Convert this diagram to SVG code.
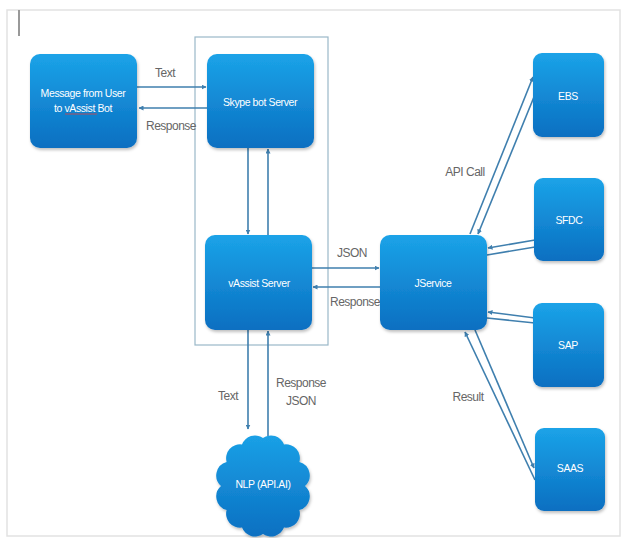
<svg xmlns="http://www.w3.org/2000/svg" width="623" height="538" viewBox="0 0 623 538">
<style>
.box{fill:url(#bg);filter:url(#sh)}
.bt{fill:#fff;font-family:"Liberation Sans",Arial,sans-serif;font-size:10.5px;text-anchor:middle;letter-spacing:-0.4px}
.lb{fill:#666;font-family:"Liberation Sans",Arial,sans-serif;font-size:12px;text-anchor:middle;letter-spacing:-0.5px}
.cn{stroke:#3f7fae;stroke-width:1.6;fill:none}
</style>
<defs>
<linearGradient id="bg" x1="0" y1="0" x2="0" y2="1">
<stop offset="0" stop-color="#1ba3e8"/>
<stop offset="1" stop-color="#0b6fc1"/>
</linearGradient>
<linearGradient id="cg" gradientUnits="userSpaceOnUse" x1="0" y1="430" x2="0" y2="538">
<stop offset="0" stop-color="#1ba3e8"/>
<stop offset="1" stop-color="#0b6fc1"/>
</linearGradient>
<filter id="sh" x="-10%" y="-10%" width="125%" height="125%">
<feDropShadow dx="1" dy="2" stdDeviation="1.5" flood-color="#000" flood-opacity="0.25"/>
</filter>
<marker id="ah" viewBox="0 0 10 10" refX="9" refY="5" markerWidth="5" markerHeight="5" orient="auto" markerUnits="userSpaceOnUse">
<path d="M0,0 L10,5 L0,10 z" fill="#3f7fae"/>
</marker>
</defs>
<rect width="623" height="538" fill="#fff"/>
<rect x="7" y="10" width="613" height="526" fill="none" stroke="#e2e2e2" stroke-width="1.5"/>
<line x1="19" y1="10" x2="19" y2="36" stroke="#999" stroke-width="2"/>
<rect id="container" x="195" y="37" width="133" height="308" fill="none" stroke="#9ab8c8" stroke-width="1.2"/>
<g id="connectors">
<line class="cn" x1="137" y1="87" x2="206" y2="87" marker-end="url(#ah)"/>
<line class="cn" x1="207" y1="108" x2="139" y2="108" marker-end="url(#ah)"/>
<line class="cn" x1="248" y1="148" x2="248" y2="234" marker-end="url(#ah)"/>
<line class="cn" x1="268" y1="235" x2="268" y2="149" marker-end="url(#ah)"/>
<line class="cn" x1="312" y1="268" x2="379" y2="268" marker-end="url(#ah)"/>
<line class="cn" x1="380" y1="287" x2="313" y2="287" marker-end="url(#ah)"/>
<line class="cn" x1="248" y1="330" x2="248" y2="429" marker-end="url(#ah)"/>
<line class="cn" x1="268" y1="436" x2="268" y2="331" marker-end="url(#ah)"/>
<line class="cn" x1="470" y1="234" x2="533" y2="77" marker-end="url(#ah)"/>
<line class="cn" x1="536" y1="92" x2="478" y2="234" marker-end="url(#ah)"/>
<line class="cn" x1="535" y1="240" x2="488" y2="248" marker-end="url(#ah)"/>
<line class="cn" x1="487" y1="255" x2="535" y2="247"/>
<line class="cn" x1="535" y1="318" x2="488" y2="312" marker-end="url(#ah)"/>
<line class="cn" x1="487" y1="318" x2="535" y2="323"/>
<line class="cn" x1="535" y1="480" x2="465" y2="332" marker-end="url(#ah)"/>
<line class="cn" x1="475" y1="330" x2="534" y2="468" marker-end="url(#ah)"/>
</g>
<g id="labels">
<text class="lb" x="165" y="77">Text</text>
<text class="lb" x="171" y="130">Response</text>
<text class="lb" x="352" y="257">JSON</text>
<text class="lb" x="355" y="306">Response</text>
<text class="lb" x="228" y="400">Text</text>
<text class="lb" x="301" y="387">Response</text>
<text class="lb" x="301" y="405">JSON</text>
<text class="lb" x="465" y="176">API Call</text>
<text class="lb" x="468" y="401">Result</text>
</g>
<g id="user">
<rect class="box" x="30" y="54" width="107" height="94" rx="10"/>
<text class="bt" x="83" y="97">Message from User</text>
<text class="bt" x="83" y="112">to vAssist Bot</text>
<line x1="65" y1="114" x2="97" y2="114" stroke="#e04040" stroke-width="0.8"/>
</g>
<g id="skype">
<rect class="box" x="207" y="54" width="107" height="94" rx="10"/>
<text class="bt" x="260" y="106">Skype bot Server</text>
</g>
<g id="vassist">
<rect class="box" x="205" y="235" width="107" height="95" rx="10"/>
<text class="bt" x="259" y="287">vAssist Server</text>
</g>
<g id="jservice">
<rect class="box" x="380" y="235" width="107" height="95" rx="10"/>
<text class="bt" x="433" y="287">JService</text>
</g>
<g id="ebs">
<rect class="box" x="533" y="53" width="71" height="84" rx="9"/>
<text class="bt" x="568" y="100">EBS</text>
</g>
<g id="sfdc">
<rect class="box" x="534" y="178" width="70" height="83" rx="9"/>
<text class="bt" x="569" y="224">SFDC</text>
</g>
<g id="sap">
<rect class="box" x="533" y="303" width="71" height="84" rx="9"/>
<text class="bt" x="568" y="349">SAP</text>
</g>
<g id="saas">
<rect class="box" x="535" y="428" width="70" height="83" rx="9"/>
<text class="bt" x="570" y="472">SAAS</text>
</g>
<g id="nlp">
<path fill="url(#cg)" filter="url(#sh)" d="M263,438 A14,14 0 0 1 284,444.4 A14,14 0 0 1 299.4,462 A14,14 0 0 1 305,486 A14,14 0 0 1 299.4,510 A14,14 0 0 1 284,527.6 A14,14 0 0 1 263,534 A14,14 0 0 1 242,527.6 A14,14 0 0 1 226.6,510 A14,14 0 0 1 221,486 A14,14 0 0 1 226.6,462 A14,14 0 0 1 242,444.4 A14,14 0 0 1 263,438 Z"/>
<text class="bt" x="263" y="488">NLP (API.AI)</text>
</g>
</svg>
